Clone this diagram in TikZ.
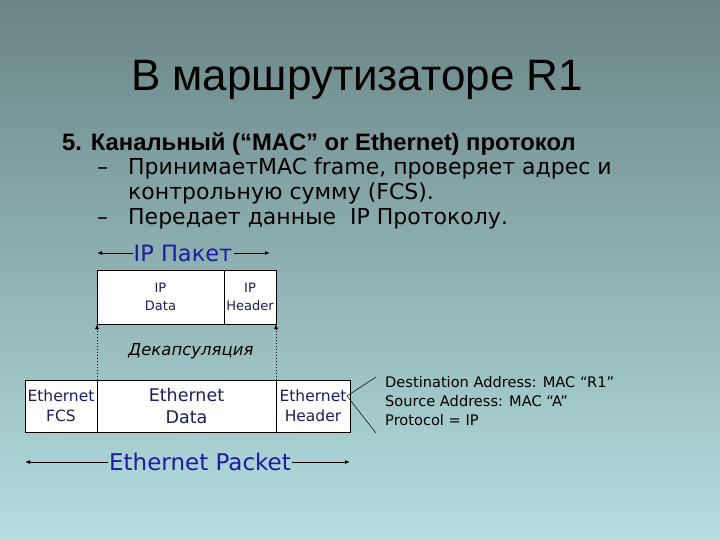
\documentclass[tikz,border=0pt]{standalone}
\usepackage{fontspec}
\setmainfont{Liberation Sans}
\newfontfamily\handfont{DejaVu Sans}
\usetikzlibrary{positioning,arrows.meta}

\definecolor{slideTop}{RGB}{106,133,134}
\definecolor{slideBottom}{RGB}{181,222,224}
\definecolor{packetBlue}{RGB}{28,28,160}
\definecolor{cellInk}{RGB}{28,28,96}

\newcommand{\ipCellHeight}{54pt}
\newcommand{\ethCellHeight}{52pt}

\tikzset{
  sl title/.style={font=\fontsize{44}{50}\selectfont, anchor=base, inner sep=0pt},
  sl head/.style={font=\bfseries\fontsize{23.8}{26}\selectfont, anchor=base west, inner sep=0pt},
  sl item/.style={font=\handfont\fontsize{22}{24}\selectfont, anchor=base west, inner sep=0pt},
  sl packet/.style={font=\handfont\fontsize{22.5}{24}\selectfont, text=packetBlue, inner sep=1pt},
  sl cell/.style={draw, line width=0.8pt, fill=white, inner sep=0pt, outer sep=0pt,
    align=center, text=cellInk},
  sl ip cell/.style={sl cell, minimum height=\ipCellHeight,
    font=\handfont\fontsize{13}{18}\selectfont},
  sl eth cell/.style={sl cell, minimum height=\ethCellHeight,
    font=\handfont\fontsize{15.5}{20}\selectfont},
  sl arrow/.style={line width=0.9pt, -{Latex[length=5pt,width=4pt]}},
  sl dotted/.style={line width=1pt, dotted, -{Latex[length=5pt,width=4pt]}},
  sl note/.style={font=\handfont\fontsize{14.6}{19}\selectfont, align=left,
    anchor=north west, inner sep=0pt},
}

\begin{document}
\begin{tikzpicture}[x=1pt,y=-1pt]
\shade[top color=slideTop, bottom color=slideBottom] (0,0) rectangle (720,540);
\useasboundingbox (0,0) rectangle (720,540);

\node (title) [sl title] at (357,91) {В маршрутизаторе R1};
\node (head)  [sl head]  at (62,151) {5. Канальный (“MAC” or Ethernet) протокол};
\node (dashA) [sl item]  at (97,175) {–};
\node (itemA) [sl item]  at (128,175) {ПринимаетMAC frame, проверяет адрес и};
\node (itemB) [sl item]  at (128,200) {контрольную сумму (FCS).};
\node (dashC) [sl item]  at (97,225) {–};
\node (itemC) [sl item]  at (128,225) {Передает данные~ IP Протоколу.};

\node (ipdata) [sl ip cell, minimum width=127pt] at (160.5,297) {IP\\Data};
\node (iphdr)  [sl ip cell, minimum width=52pt, right=0pt of ipdata] {IP\\Header};

\node (ippkt) [sl packet] at (183,253) {IP Пакет};
\draw [sl arrow] (ippkt.west) -- (ipdata.north west |- ippkt.west);
\draw [sl arrow] (ippkt.east) -- ([xshift=-6pt]iphdr.north east |- ippkt.east);

\node (decap) [font=\handfont\itshape\fontsize{16.5}{20}\selectfont] at (191,351) {Декапсуляция};

\node (ethdata) [sl eth cell, minimum width=179pt,
  font=\handfont\fontsize{17.5}{22}\selectfont] at (186.5,406) {Ethernet\\Data};
\node (ethfcs) [sl eth cell, minimum width=72pt, left=0pt of ethdata] {Ethernet\\FCS};
\node (ethhdr) [sl eth cell, minimum width=74pt, right=0pt of ethdata] {Ethernet\\Header};

\draw [sl dotted] (ethfcs.north east) -- (ipdata.south west);
\draw [sl dotted] (ethdata.north east) -- (iphdr.south east);

\coordinate (hdrTop) at (376,377);
\coordinate (hdrBot) at (376,433);
\draw [line width=0.5pt] ([xshift=-3pt,yshift=10pt]ethhdr.east) -- (hdrTop);
\draw [line width=0.5pt] ([xshift=-3pt,yshift=10pt]ethhdr.east) -- (hdrBot);
\node (hdrinfo) [sl note] at (385,376)
  {Destination Address: MAC “R1”\\Source Address: MAC “A”\\Protocol = IP};

\node (ethpkt) [sl packet, font=\handfont\fontsize{23}{26}\selectfont] at (200,462) {Ethernet Packet};
\draw [sl arrow] (ethpkt.west) -- (ethfcs.south west |- ethpkt.west);
\draw [sl arrow] (ethpkt.east) -- (ethhdr.south east |- ethpkt.east);
\end{tikzpicture}
\end{document}
